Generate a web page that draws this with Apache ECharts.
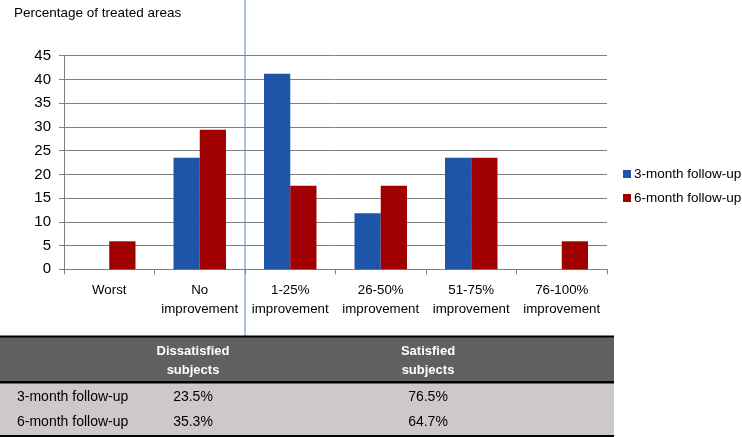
<!DOCTYPE html>
<html>
<head>
<meta charset="utf-8">
<script src="https://cdn.jsdelivr.net/npm/echarts@6/dist/echarts.min.js"></script>
<style>html,body{margin:0;padding:0;background:#fff;}#c{width:742px;height:437px;}</style>
</head>
<body>
<div id="c"></div>
<script>
var categories = ['Worst', 'No\nimprovement', '1-25%\nimprovement', '26-50%\nimprovement', '51-75%\nimprovement', '76-100%\nimprovement'];
var seriesNames = ['3-month follow-up', '6-month follow-up'];
var month3 = [0, 23.5, 41.2, 11.8, 23.5, 0];
var month6 = [5.9, 29.4, 17.6, 17.6, 23.5, 5.9];
var yTicks = [0, 5, 10, 15, 20, 25, 30, 35, 40, 45];
var tableHeaders = ['Dissatisfied\nsubjects', 'Satisfied\nsubjects'];
var tableRows = ['3-month follow-up', '6-month follow-up'];
var dissatisfied = ['23.5%', '35.3%'];
var satisfied = ['76.5%', '64.7%'];

var sans = '"Liberation Sans", Arial, sans-serif';

var chart = echarts.init(document.getElementById('c'), null, {renderer: 'canvas'});

var TW = 614;
var graphics = [];
graphics.push({type: 'text', left: 14, top: 6, style: {text: 'Percentage of treated areas', fontFamily: sans, fontSize: 13.5, fill: '#000'}});
graphics.push({type: 'line', shape: {x1: 245, y1: 0, x2: 245, y2: 336}, style: {stroke: '#5b88b8', lineWidth: 1}});
graphics.push({type: 'rect', shape: {x: 0, y: 336, width: TW, height: 46}, style: {fill: '#606060'}});
graphics.push({type: 'rect', shape: {x: 0, y: 382, width: TW, height: 53}, style: {fill: '#cdc9c9'}});
graphics.push({type: 'line', shape: {x1: 0, y1: 336.5, x2: TW, y2: 336.5}, style: {stroke: '#000', lineWidth: 2}});
graphics.push({type: 'line', shape: {x1: 0, y1: 382.2, x2: TW, y2: 382.2}, style: {stroke: '#000', lineWidth: 2.5}});
graphics.push({type: 'line', shape: {x1: 0, y1: 436, x2: TW, y2: 436}, style: {stroke: '#000', lineWidth: 2}});
var colX = [193, 428];
tableHeaders.forEach(function (h, i) {
  graphics.push({type: 'text', x: colX[i], y: 360.5, style: {text: h, fontFamily: sans, fontSize: 13, fontWeight: 'bold', fill: '#fff', align: 'center', verticalAlign: 'middle', lineHeight: 19}});
});
var rowY = [396.7, 422.5];
tableRows.forEach(function (r, i) {
  graphics.push({type: 'text', x: 17, y: rowY[i], style: {text: r, fontFamily: sans, fontSize: 14, fill: '#000', align: 'left', verticalAlign: 'middle'}});
  graphics.push({type: 'text', x: colX[0], y: rowY[i], style: {text: dissatisfied[i], fontFamily: sans, fontSize: 14, fill: '#000', align: 'center', verticalAlign: 'middle'}});
  graphics.push({type: 'text', x: colX[1], y: rowY[i], style: {text: satisfied[i], fontFamily: sans, fontSize: 14, fill: '#000', align: 'center', verticalAlign: 'middle'}});
});

chart.setOption({
  animation: false,
  backgroundColor: '#fff',
  grid: {left: 64, right: 135, top: 55.7, bottom: 167.7, containLabel: false},
  legend: {
    orient: 'vertical', left: 618, top: 162, itemWidth: 8, itemHeight: 8, itemGap: 10,
    icon: 'rect',
    textStyle: {fontFamily: sans, fontSize: 13.5, color: '#000', padding: [0, 0, 0, -2]},
    data: seriesNames
  },
  xAxis: {
    type: 'category', data: categories,
    axisLine: {lineStyle: {color: '#808080', width: 1}},
    axisTick: {show: true, length: 5, lineStyle: {color: '#808080'}},
    axisLabel: {interval: 0, margin: 12, color: '#000', fontFamily: sans, fontSize: 13.3, lineHeight: 19}
  },
  yAxis: {
    type: 'value', min: 0, max: 45, interval: 5,
    axisLine: {show: true, lineStyle: {color: '#808080'}},
    axisTick: {show: true, length: 5, lineStyle: {color: '#808080'}},
    axisLabel: {margin: 13, color: '#000', fontFamily: sans, fontSize: 15,
      formatter: function (v) { return yTicks.indexOf(v) >= 0 ? String(v) : ''; }},
    splitLine: {lineStyle: {color: '#808080', width: 1}}
  },
  series: [
    {name: seriesNames[0], type: 'bar', data: month3, barGap: '0%', barCategoryGap: '42%', itemStyle: {color: '#1f55a8'}},
    {name: seriesNames[1], type: 'bar', data: month6, barGap: '0%', barCategoryGap: '42%', itemStyle: {color: '#a10000'}}
  ],
  graphic: graphics
});
</script>
</body>
</html>
